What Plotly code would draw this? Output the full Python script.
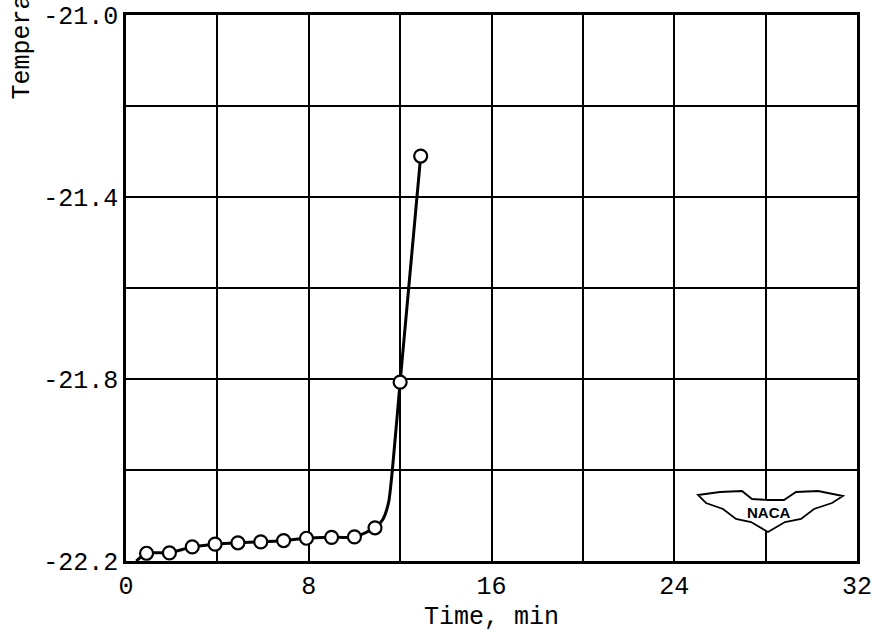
import plotly.graph_objects as go

# Measured points (time in min, temperature)
time_min = [0.9, 1.9, 2.9, 3.9, 4.9, 5.9, 6.9, 7.9, 9.0, 10.0, 10.9, 12.0, 12.9]
temperature = [-22.183, -22.182, -22.169, -22.163, -22.160, -22.158, -22.155,
               -22.150, -22.148, -22.147, -22.127, -21.807, -21.310]

# Faired curve drawn through the points
curve_time = [0.45, 0.9, 1.9, 2.9, 3.9, 4.9, 5.9, 6.9, 7.9, 9.0, 10.0, 10.9,
              11.25, 11.5, 11.66, 12.0, 12.9]
curve_temp = [-22.2, -22.183, -22.182, -22.169, -22.163, -22.160, -22.158, -22.155,
              -22.150, -22.148, -22.147, -22.127, -22.108, -22.07, -22.0, -21.807, -21.310]

x_tickvals = [0, 4, 8, 12, 16, 20, 24, 28, 32]
x_ticktext = ["0", "", "8", "", "16", "", "24", "", "32"]
y_tickvals = [-22.2, -22.0, -21.8, -21.6, -21.4, -21.2, -21.0]
y_ticktext = ["-22.2", "", "-21.8", "", "-21.4", "", "-21.0"]

FONT = "Liberation Mono, Courier New, monospace"

W, H = 875, 632
ML, MR, MT, MB = 126, 18, 15, 71
X0, X1 = 0, 32
Y0, Y1 = -22.2, -21.0


def px2d(px, py):
    x = X0 + (px - ML) / (W - ML - MR) * (X1 - X0)
    y = Y1 - (py - MT) / (H - MT - MB) * (Y1 - Y0)
    return x, y


fig = go.Figure()
fig.add_trace(go.Scatter(
    x=curve_time, y=curve_temp, mode="lines",
    line=dict(color="black", width=3, shape="spline", smoothing=0.6),
    hoverinfo="skip", showlegend=False))
fig.add_trace(go.Scatter(
    x=time_min, y=temperature, mode="markers",
    marker=dict(symbol="circle", size=13, color="white",
                line=dict(color="black", width=2.2)),
    showlegend=False))

# NACA logo (decorative)
logo_px = [(698, 495), (720, 492), (742, 491), (752, 499), (768, 500), (784, 500),
           (796, 492), (818, 491), (843, 496), (832, 503), (814, 509), (801, 519),
           (785, 522), (768, 532), (751, 522), (736, 519), (723, 509), (706, 503)]
pts = [px2d(a, b) for a, b in logo_px]
path = "M " + " L ".join(f"{x:.4f},{y:.5f}" for x, y in pts) + " Z"
fig.add_shape(type="path", path=path, xref="x", yref="y",
              fillcolor="white", line=dict(color="black", width=1.8), layer="above")
lx, ly = px2d(768, 512)
fig.add_annotation(x=lx, y=ly, xref="x", yref="y", text="<b>NACA</b>",
                   showarrow=False, font=dict(family="Liberation Sans, Arial", size=15, color="black"))

# Partially visible y-axis title
fig.add_annotation(x=(22 - ML) / (W - ML - MR), y=(H - MB - 102) / (H - MT - MB),
                   xref="paper", yref="paper", text="Temperature, °C",
                   textangle=-90, xanchor="center", yanchor="bottom", showarrow=False,
                   font=dict(family=FONT, size=25, color="black"))

fig.update_xaxes(range=[X0, X1], tickvals=x_tickvals, ticktext=x_ticktext,
                 showgrid=True, gridcolor="black", gridwidth=2,
                 showline=True, linecolor="black", linewidth=2.5, mirror=True,
                 zeroline=False, ticks="", ticklabelstandoff=0, automargin=False,
                 tickfont=dict(family=FONT, size=25, color="black"),
                 title=dict(text="Time, min", standoff=14,
                            font=dict(family=FONT, size=25, color="black")))
fig.update_yaxes(range=[Y0, Y1], tickvals=y_tickvals, ticktext=y_ticktext,
                 showgrid=True, gridcolor="black", gridwidth=2,
                 showline=True, linecolor="black", linewidth=2.5, mirror=True,
                 zeroline=False, ticks="", ticklabelstandoff=0, automargin=False,
                 tickfont=dict(family=FONT, size=25, color="black"))

fig.update_layout(width=W, height=H, margin=dict(l=ML, r=MR, t=MT, b=MB, autoexpand=False),
                  plot_bgcolor="white", paper_bgcolor="white", showlegend=False)

fig.write_html("out.html", config={"displayModeBar": False},
               post_script="document.body.style.margin='0';document.body.style.overflow='hidden';")
